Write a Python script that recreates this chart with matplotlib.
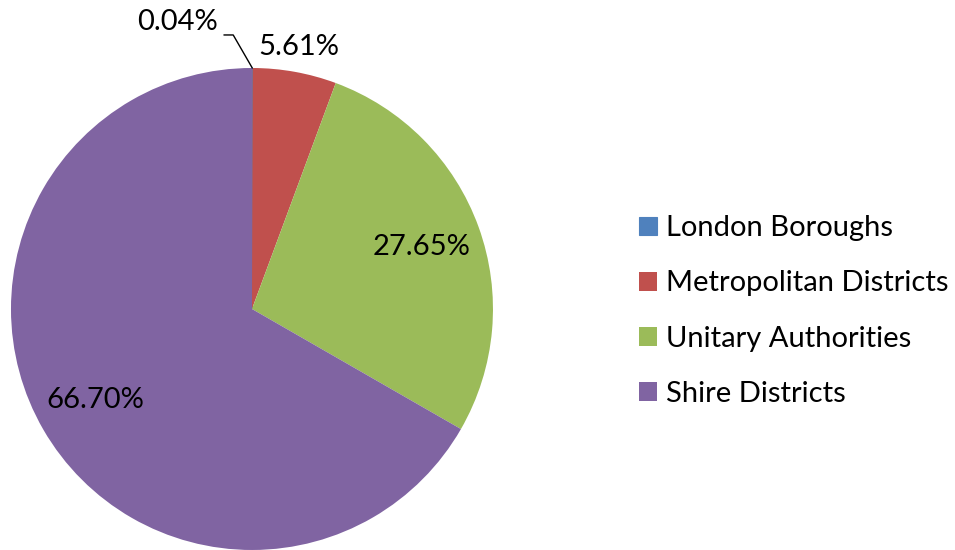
import numpy as np
import matplotlib
matplotlib.use("Agg")
import matplotlib.pyplot as plt

categories = ["London Boroughs", "Metropolitan Districts", "Unitary Authorities", "Shire Districts"]
shares = [0.04, 5.61, 27.65, 66.70]
colors = ["#4F81BD", "#C0504D", "#9BBB59", "#8064A2"]

plt.rcParams["font.family"] = ["Lato", "DejaVu Sans"]
FS = 21

fig = plt.figure(figsize=(9.55, 5.5), dpi=100)
ax = fig.add_axes([0.0115, 0.0, 0.5047, 0.8764])

wedges, _ = ax.pie(shares, colors=colors, startangle=90, counterclock=False,
                   radius=1.0, wedgeprops=dict(linewidth=0))
wedges[0].set_edgecolor(colors[0])
wedges[0].set_linewidth(0.8)
ax.set_xlim(-1, 1)
ax.set_ylim(-1, 1)
ax.set_aspect("equal")
ax.axis("off")

# inside labels for the big slices, placed along the mid-angle
for w, v in zip(wedges[2:], shares[2:]):
    mid = np.deg2rad((w.theta1 + w.theta2) / 2)
    ax.text(0.75 * np.cos(mid), 0.75 * np.sin(mid), f"{v:.2f}%",
            ha="center", va="center", fontsize=FS)

# small slices: labels outside
ax.text(0.195, 1.087, f"{shares[1]:.2f}%", ha="center", va="center", fontsize=FS)
w0 = wedges[0]
mid0 = np.deg2rad((w0.theta1 + w0.theta2) / 2)
ax.annotate(f"{shares[0]:.2f}%", xy=(np.cos(mid0), np.sin(mid0)),
            xytext=(-0.307, 1.191), ha="center", va="center", fontsize=FS,
            annotation_clip=False,
            arrowprops=dict(arrowstyle="-", color="black", lw=1.0,
                            relpos=(1.0, 0.0), shrinkA=2, shrinkB=0,
                            connectionstyle="angle,angleA=0,angleB=120,rad=0"))

ax.legend(wedges, categories, loc="center left",
          bbox_to_anchor=(639 / 955, 1 - 311 / 550), bbox_transform=fig.transFigure,
          frameon=False, fontsize=FS, handlelength=0.62, handleheight=0.62,
          handletextpad=0.3, labelspacing=1.0, borderpad=0, borderaxespad=0)

fig.savefig("out.png", dpi=100)
